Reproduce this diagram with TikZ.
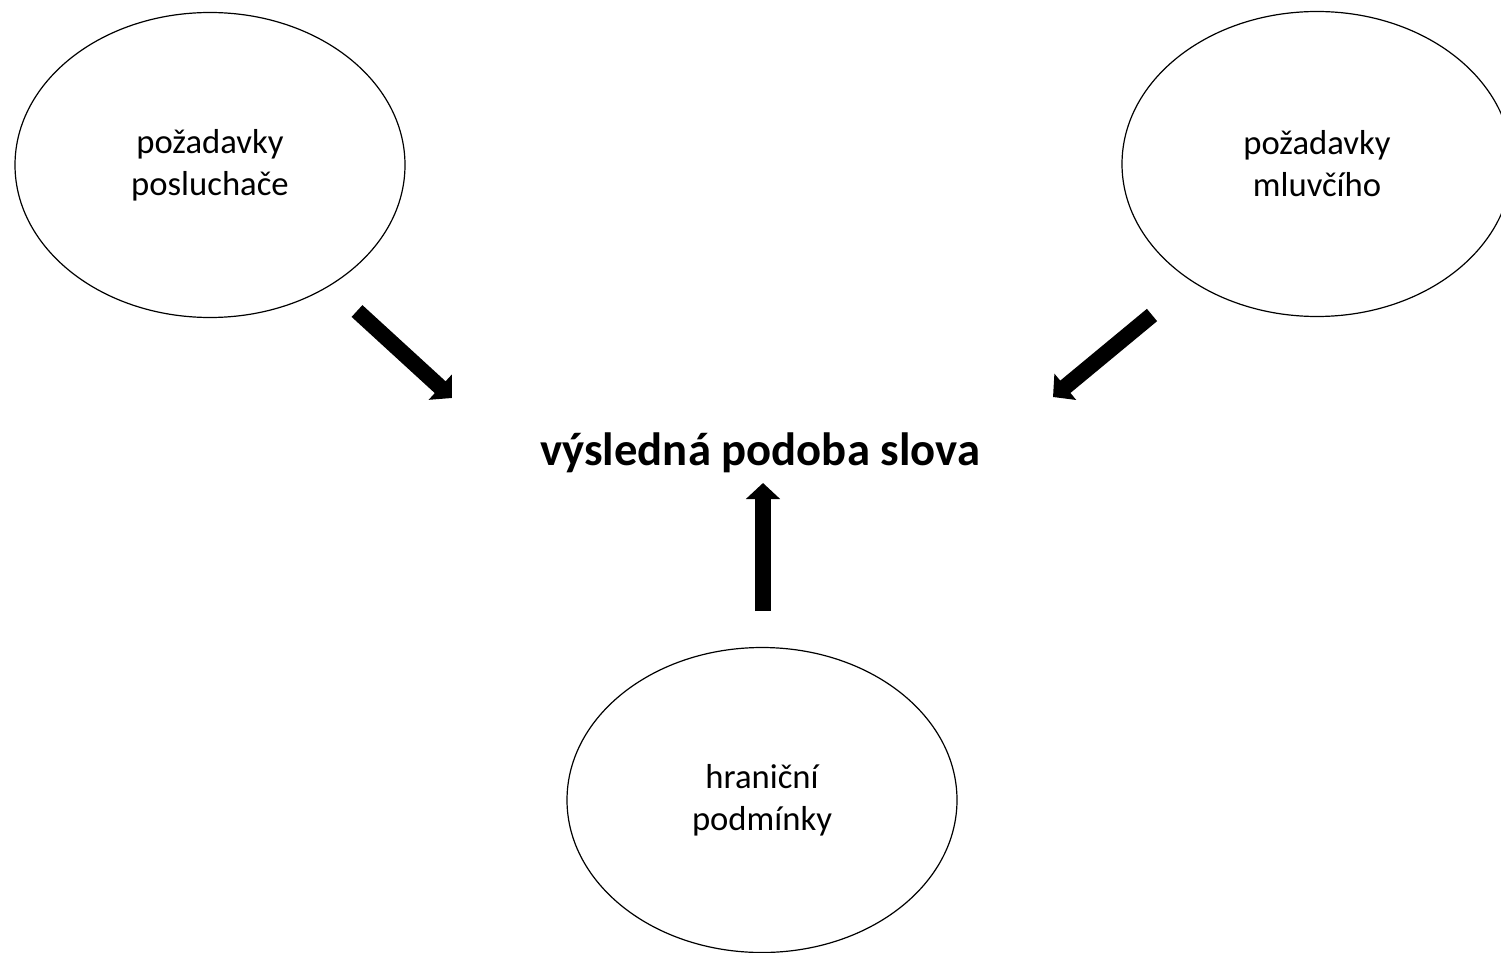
\documentclass[tikz,border=0pt]{standalone}
\usepackage{fontspec}
\setmainfont{Carlito}
\usetikzlibrary{shapes.geometric,arrows.meta}
\tikzset{
  bubble/.style={draw=black, line width=0.9pt, ellipse, inner sep=0pt,
    minimum width=292.5pt, minimum height=228.75pt, align=center,
    font=\fontsize{26pt}{31.5pt}\selectfont},
  title/.style={font=\fontsize{35pt}{42pt}\selectfont\bfseries, inner sep=0pt},
  blockarrow/.style={line width=12pt, line cap=butt,
    -{Triangle[length=12pt, width=25pt]}}
}
\begin{document}
\begin{tikzpicture}[x=0.75pt, y=-0.75pt]
  \useasboundingbox (0,0) rectangle (1501,952);
  \fill[white] (0,0) rectangle (1501,952);
  \node[bubble] (posl) at (210,165) {požadavky\\poslucha\v{c}e};
  \node[bubble] (mluv) at (1317,164) {požadavky\\mluvčího};
  \node[bubble] (hran) at (762,800) {hraniční\\podmínky};
  \node[title, anchor=base] (vysl) at (760,465) {výsledná podoba slova};
  \coordinate (t1) at (357,311);
  \coordinate (h1) at (452,398);
  \coordinate (t2) at (1152,315);
  \coordinate (h2) at (1053,397);
  \coordinate (t3) at (763,611);
  \coordinate (h3) at (763,483);
  \draw[blockarrow] (t1) -- (h1);
  \draw[blockarrow] (t2) -- (h2);
  \draw[blockarrow] (t3) -- (h3);
\end{tikzpicture}
\end{document}
